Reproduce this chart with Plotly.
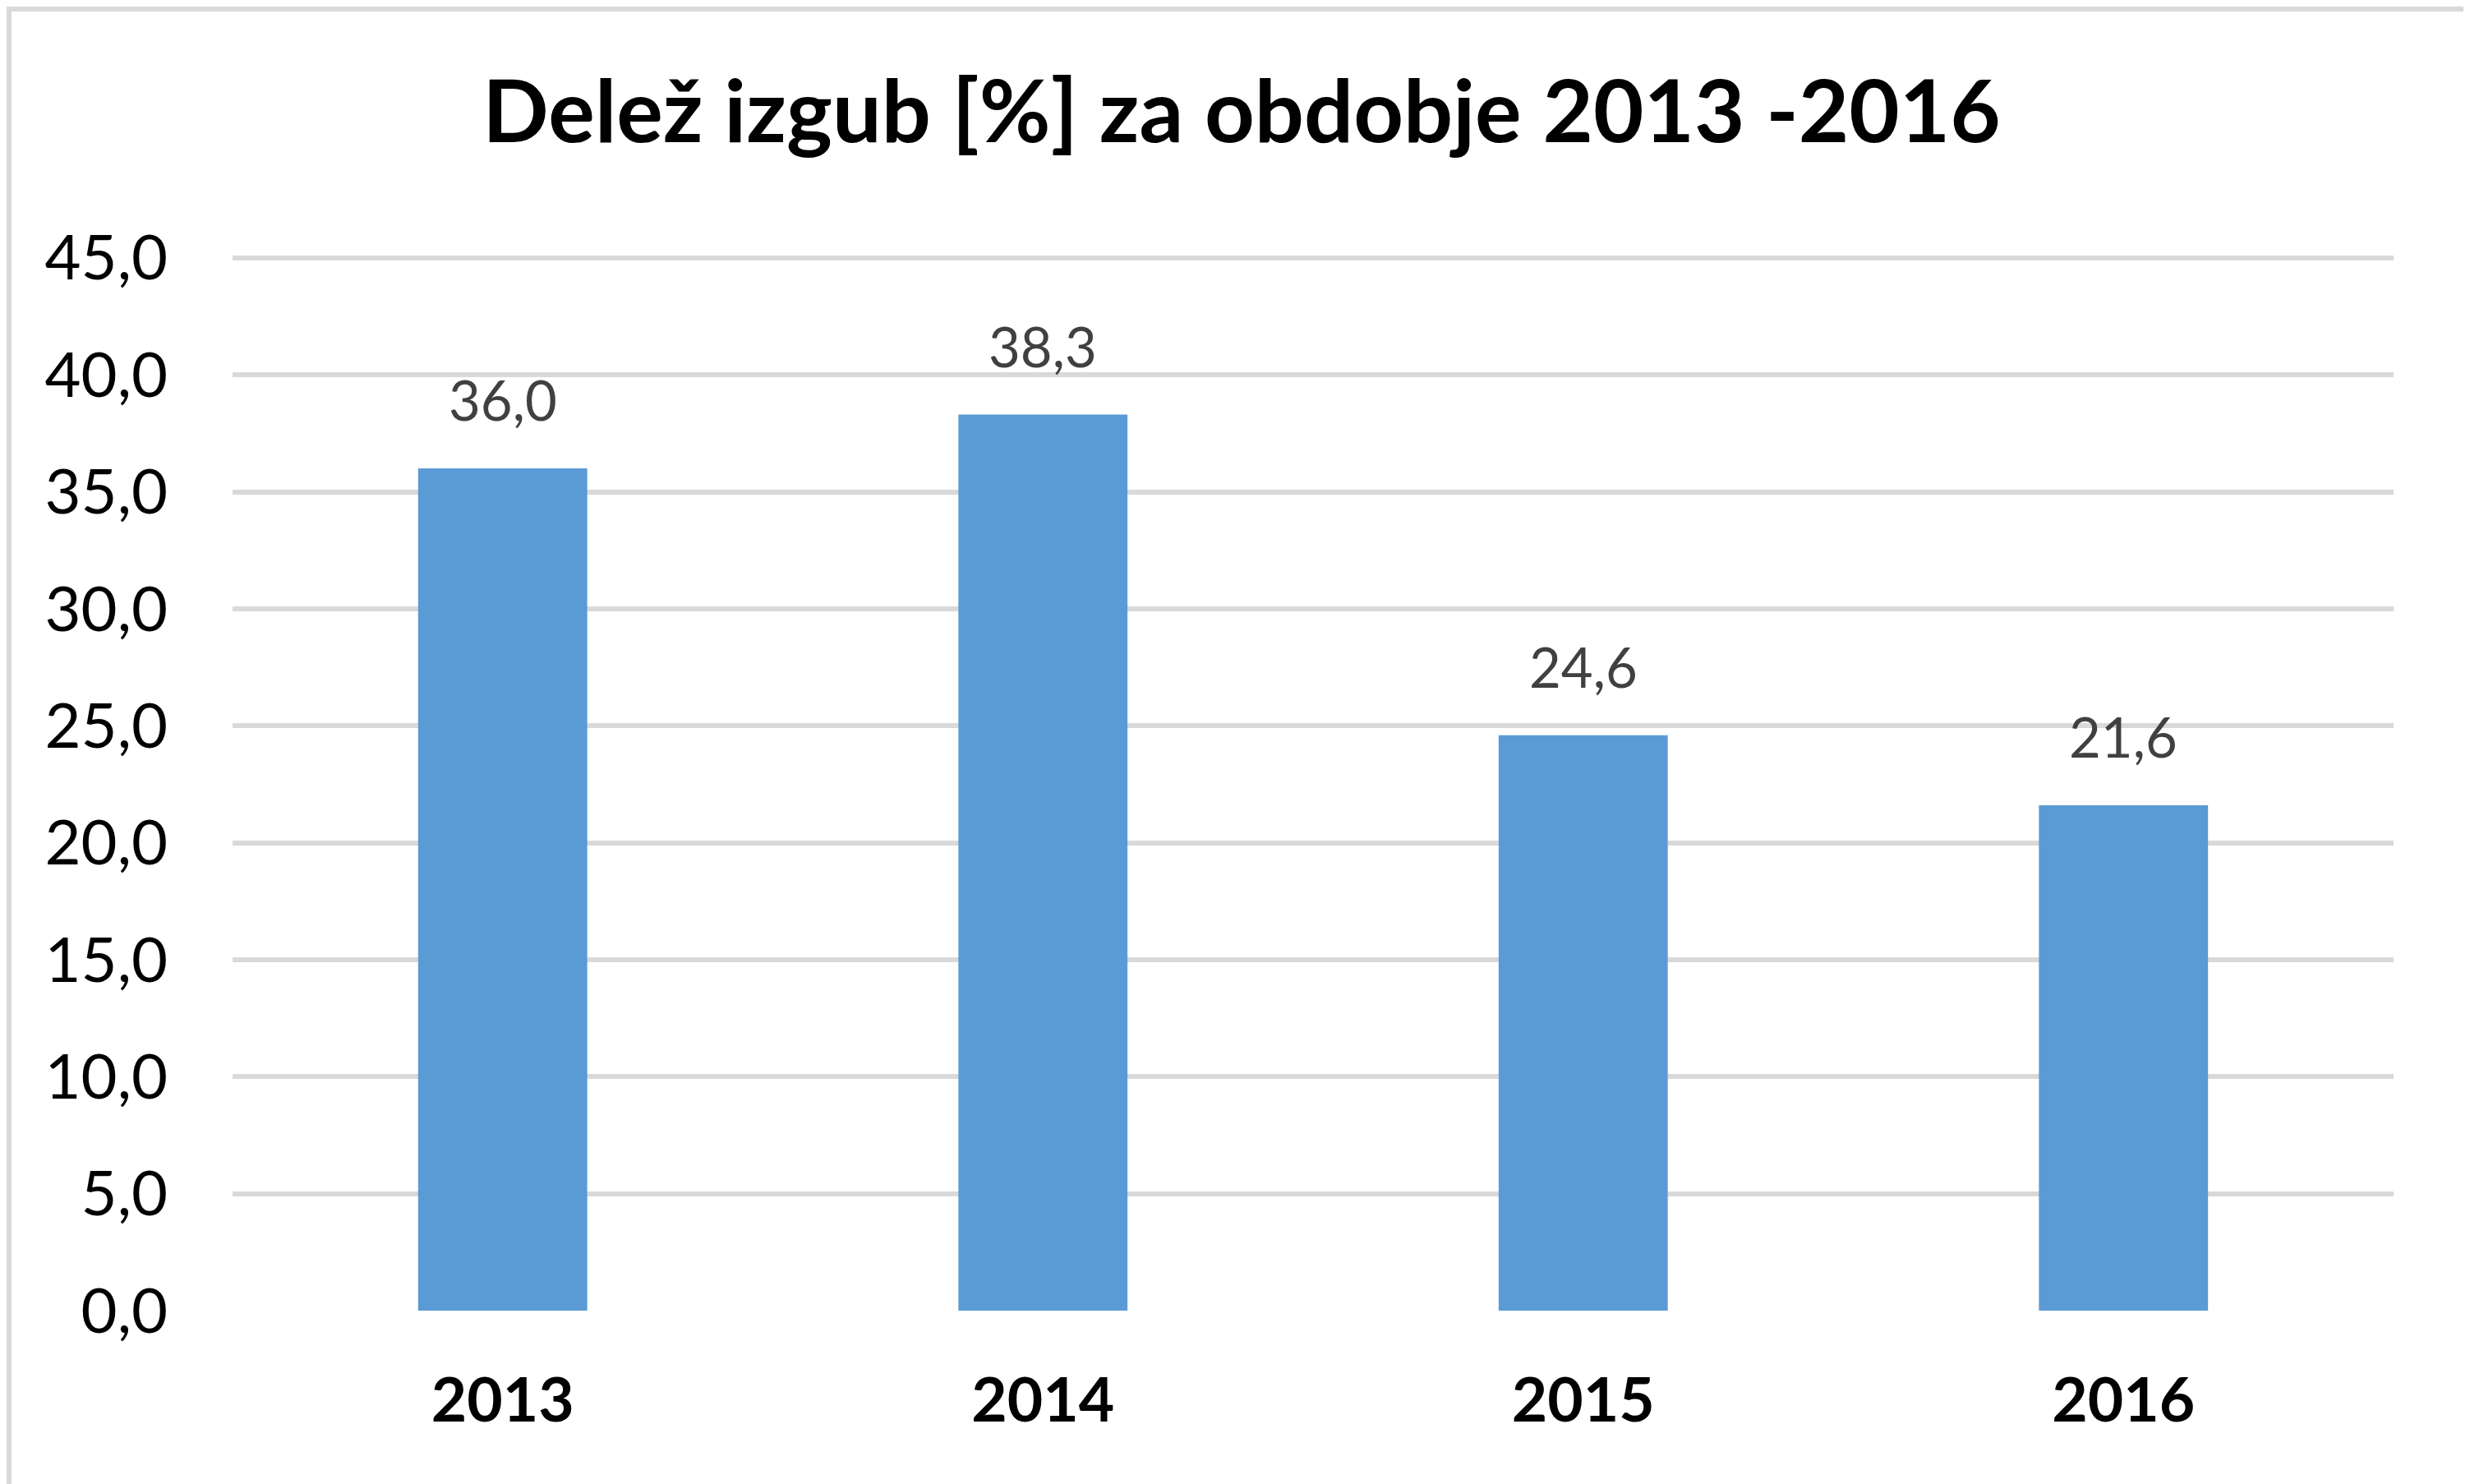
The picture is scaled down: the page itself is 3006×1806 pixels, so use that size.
import plotly.graph_objects as go

# Data
years = ["2013", "2014", "2015", "2016"]
losses = [36.0, 38.3, 24.6, 21.6]
y_ticks = [0, 5, 10, 15, 20, 25, 30, 35, 40, 45]
y_tick_labels = ["0,0", "5,0", "10,0", "15,0", "20,0", "25,0", "30,0", "35,0", "40,0", "45,0"]
title_text = "Delež izgub [%] za obdobje 2013 -2016"

W, H = 3006, 1806
ML, MR, MT, MB = 275, 101, 303, 219
PW, PH = W - ML - MR, H - MT - MB

fig = go.Figure()
fig.add_trace(go.Bar(
    x=years, y=losses,
    marker=dict(color="#5b9bd5", line=dict(width=0)),
    width=0.313,
    hoverinfo="x+y",
))

for i, v in enumerate(losses):
    fig.add_annotation(
        x=i, y=v, text=f"{v:.1f}".replace(".", ","),
        showarrow=False, yanchor="bottom", yshift=42,
        font=dict(family="Lato", size=67, color="#404040"),
    )

# light grey outer border
def px_x(p):
    return (p - ML) / PW

def px_y(p):
    return (H - MB - p) / PH

fig.add_shape(
    type="rect", xref="paper", yref="paper",
    x0=px_x(3), x1=px_x(W - 3.5), y0=px_y(H - 3), y1=px_y(3),
    line=dict(color="#d9d9d9", width=6), fillcolor="rgba(0,0,0,0)", layer="below",
)

fig.update_layout(
    width=W, height=H,
    margin=dict(l=ML, r=MR, t=MT, b=MB, pad=0),
    paper_bgcolor="white", plot_bgcolor="white",
    showlegend=False,
    title=dict(
        text=title_text, x=0.5, xanchor="center", xref="container",
        y=1 - 128 / H, yanchor="middle", yref="container",
        font=dict(family="Lato", size=106, color="black", weight="bold"),
    ),
    font=dict(family="Lato"),
    bargap=0.687,
)
fig.update_xaxes(
    type="category", showgrid=False, zeroline=False, showline=False,
    ticks="", ticklabelstandoff=59,
    tickfont=dict(family="Lato", size=75, color="black", weight="bold"),
)
fig.update_yaxes(
    range=[0, 45.1], tickvals=y_ticks, ticktext=y_tick_labels,
    showgrid=True, gridcolor="#d9d9d9", gridwidth=6,
    zeroline=False, showline=False, ticks="", ticklabelstandoff=78,
    tickfont=dict(family="Lato", size=76, color="black"),
)

fig.write_html("out.html")
